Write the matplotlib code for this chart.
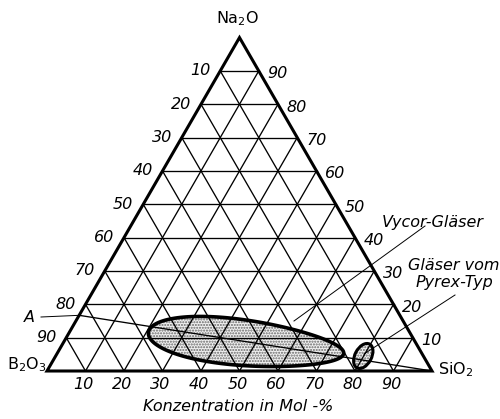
import numpy as np
import matplotlib
matplotlib.use('Agg')
import matplotlib.pyplot as plt
from matplotlib.patches import Ellipse, Polygon

# ---------------- data ----------------
grid_levels = [10, 20, 30, 40, 50, 60, 70, 80, 90]          # percent
left_labels = ['10', '20', '30', '40', '50', '60', '70', '80', '90']    # top -> bottom
right_labels = ['90', '80', '70', '60', '50', '40', '30', '20', '10']   # top -> bottom
bottom_labels = ['10', '20', '30', '40', '50', '60', '70', '80', '90']  # left -> right
vertex_labels = ['Na$_2$O', 'B$_2$O$_3$', 'SiO$_2$']
axis_title = 'Konzentration in Mol -%'
# composition points as (SiO2 %, Na2O %)
line_A = [(0.0, 16.7), (100.0, 0.0)]
vycor_center = (47.5, 8.4)        # (SiO2 %, Na2O %)
vycor_shape = (25.5, 5.9, -6.1, 0.18)  # half length, half width (% of side), angle deg, egg factor
pyrex_center = (79.9, 4.5)
pyrex_axes = (7.0, 4.3, 62.0)
region_labels = ['Vycor-Gläser', 'Gläser vom\nPyrex-Typ', 'A']

H = np.sqrt(3) / 2


def tern(s, n):
    """SiO2 %, Na2O % -> cartesian (side = 1)."""
    return s / 100 + n / 200, n / 100 * H


S = 385.0  # pixels per unit side


def P(px, py):
    return (px - 47) / S, (371 - py) / S


fig = plt.figure(figsize=(5, 4.19), dpi=100)
ax = fig.add_axes([0, 0, 1, 1])
ax.set_xlim(-47 / S, 453 / S)
ax.set_ylim((371 - 419) / S, 371 / S)
ax.set_aspect('equal')
ax.axis('off')

FONT = ['Liberation Sans Narrow', 'DejaVu Sans']
gl = dict(color='black', lw=0.95, zorder=2)

# grid lines
for g in grid_levels:
    x0, y0 = tern(0, g)
    x1, y1 = tern(100 - g, g)
    ax.plot([x0, x1], [y0, y1], **gl)
    x0, y0 = tern(g, 0)
    x1, y1 = tern(g, 100 - g)
    ax.plot([x0, x1], [y0, y1], **gl)
    x0, y0 = tern(100 - g, 0)
    x1, y1 = tern(0, 100 - g)
    ax.plot([x0, x1], [y0, y1], **gl)

# outer triangle
tri = Polygon([tern(0, 0), tern(100, 0), tern(0, 100)], closed=True,
              fill=False, lw=2.2, edgecolor='black', zorder=4, joinstyle='miter')
ax.add_patch(tri)

# Vycor region (egg shaped)
vc = np.array(tern(*vycor_center))
a, b, ang, e = vycor_shape
a, b = a / 100, b / 100
th = np.deg2rad(ang)
d = np.array([np.cos(th), np.sin(th)])
pp = np.array([-np.sin(th), np.cos(th)])
t = np.linspace(0, 2 * np.pi, 300)
u = a * np.cos(t)
v = b * np.sin(t) * (1 - e * np.cos(t))
pts = vc[None, :] + u[:, None] * d[None, :] + v[:, None] * pp[None, :]
ax.add_patch(Polygon(pts, closed=True, facecolor='#f0f0f0', edgecolor='#666666',
                     hatch='......', lw=0, zorder=1))
ax.add_patch(Polygon(pts, closed=True, fill=False, edgecolor='black', lw=2.6, zorder=5))

pc = tern(*pyrex_center)
for kw in (dict(facecolor='#f0f0f0', edgecolor='#666666', hatch='......', lw=0, zorder=1),
           dict(fill=False, edgecolor='black', lw=2.2, zorder=5)):
    ax.add_patch(Ellipse(pc, pyrex_axes[0] / 100, pyrex_axes[1] / 100,
                         angle=pyrex_axes[2], **kw))

# line A
pa = [tern(*p) for p in line_A]
ax.plot([pa[0][0], pa[1][0]], [pa[0][1], pa[1][1]], color='black', lw=0.95, zorder=3)
ax.plot([P(41, 317)[0], pa[0][0]], [P(41, 317)[1], pa[0][1]], color='black', lw=0.7, zorder=3)

# leaders for region labels
for (p0, p1) in [((425, 226), (294, 321)), ((455, 295), (364, 354))]:
    q0, q1 = P(*p0), P(*p1)
    ax.plot([q0[0], q1[0]], [q0[1], q1[1]], color='black', lw=0.7, zorder=3)

tk = dict(fontsize=11.5, style='italic', family=FONT, ha='center', va='center')
for g, lab in zip(sorted(grid_levels, reverse=True), left_labels):
    x, y = tern(0, g)
    ax.text(x - 20 / S, y, lab, **tk)
for g, lab in zip(sorted(grid_levels, reverse=True), right_labels):
    x, y = tern(100 - g, g)
    ax.text(x + 19 / S, y - 3 / S, lab, **tk)
for g, lab in zip(grid_levels, bottom_labels):
    x, y = tern(g, 0)
    ax.text(x - 2 / S, y - 13 / S, lab, **tk)

vt = dict(fontsize=11.5, family=FONT, ha='center', va='center')
ax.text(*P(238, 19), vertex_labels[0], **vt)
ax.text(*P(27, 365), vertex_labels[1], **vt)
ax.text(*P(456, 370), vertex_labels[2], **vt)

ax.text(*P(238, 406), axis_title, **tk)
ax.text(*P(433, 222), region_labels[0], **tk)
ax.text(*P(454, 274), region_labels[1], linespacing=1.1, **tk)
ax.text(*P(29, 317), region_labels[2], **tk)

fig.savefig('out.png', dpi=100)
